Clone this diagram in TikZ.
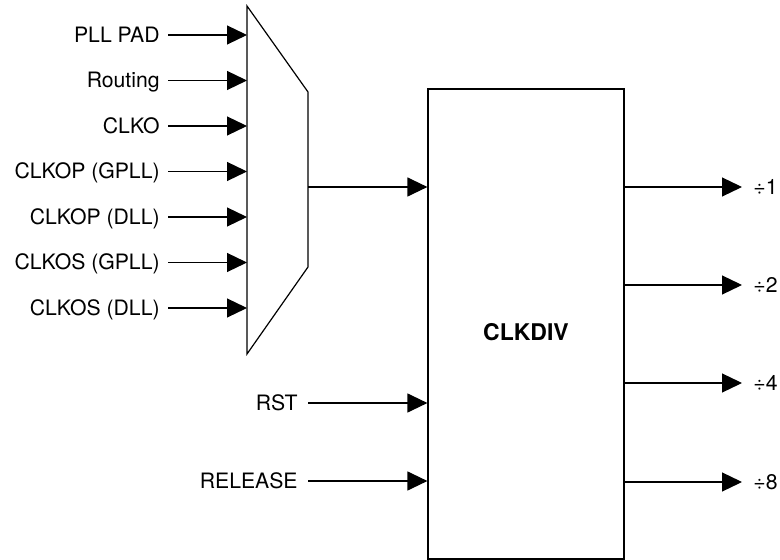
\documentclass[tikz,border=0pt]{standalone}
\usepackage{fontspec}
\setmainfont{TeX Gyre Heros}
\usetikzlibrary{positioning,arrows.meta,calc}

\begin{document}
\begin{tikzpicture}[x=0.5pt, y=-0.5pt, font=\fontsize{10.6}{12}\selectfont,
  sig/.style={-{Triangle[length=10pt,width=9.5pt]}, line width=0.6pt},
  pin/.style={inner xsep=4pt, inner ysep=0pt, text height=0.72em, text depth=0pt},
  block/.style={draw, line width=0.6pt, minimum width=98pt, minimum height=235pt}]

\useasboundingbox (0,0) rectangle (780,560);

%corners of the mux
\coordinate (mux-tl) at (247,6);
\coordinate (mux-tr) at (308,92);
\coordinate (mux-br) at (308,267);
\coordinate (mux-bl) at (247,354);
\coordinate (mux-out) at (308,187);

\draw[line width=0.6pt] (mux-tl) -- (mux-tr) -- (mux-br) -- (mux-bl) -- cycle;

%inputs of the mux
\foreach \name [count=\k from 0] in {{PLL PAD},{Routing},{CLKO},{CLKOP (GPLL)},{CLKOP (DLL)},{CLKOS (GPLL)},{CLKOS (DLL)}} {
    \node[pin, anchor=east] (in\k) at (168,35+45.5*\k) {\name};
    \draw[sig] (in\k.east) -- (in\k.east -| mux-tl);
}

%divider block
\node[block] (clkdiv) at (526,324) {};
\node[font=\bfseries\fontsize{11.5}{13}\selectfont] (clkdiv-name) at (526,332) {CLKDIV};

\draw[sig] (mux-out) -- (mux-out -| clkdiv.west);

%control inputs
\node[pin, anchor=east, inner xsep=5pt] (rst) at (308,403) {RST};
\node[pin, anchor=east, inner xsep=5pt] (release) at (308,481) {RELEASE};
\draw[sig] (rst.east) -- (rst.east -| clkdiv.west);
\draw[sig] (release.east) -- (release.east -| clkdiv.west);

%divided outputs
\foreach \d/\y in {1/187, 2/285, 4/383, 8/482} {
    \node[pin, anchor=west, inner xsep=5.5pt] (div\d) at (742,\y) {÷\d};
    \draw[sig] (div\d.west -| clkdiv.east) -- (div\d.west);
}

\end{tikzpicture}
\end{document}
